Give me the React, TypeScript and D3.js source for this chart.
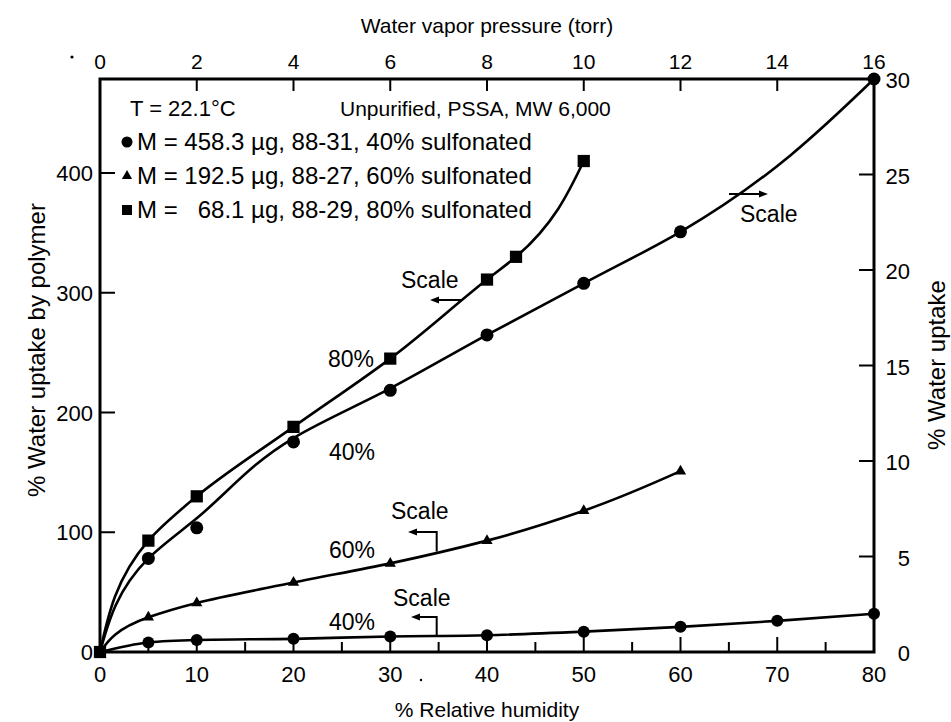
import React from "react";
import * as d3 from "d3";

// Relative humidity (%) and water uptake (%) for each sample
const sq80RH = [0, 5, 10, 20, 30, 40, 43, 50];
const sq80Uptake = [0, 93, 130, 188, 245, 311, 330, 410];

const tri60RH = [0, 5, 10, 20, 30, 40, 50, 60];
const tri60Uptake = [0, 29, 41, 58, 74, 93, 118, 151];

// 40% sulfonated, plotted against the left scale
const circ40RH = [0, 5, 10, 20, 30, 40, 50, 60, 70, 80];
const circ40Uptake = [0, 8, 10, 11, 13, 14, 17, 21, 26, 32];

// 40% sulfonated, plotted against the right scale
const circ40RRH = [0, 5, 10, 20, 30, 40, 50, 60, 80];
const circ40RUptake = [0, 4.9, 6.5, 11, 13.7, 16.6, 19.3, 22, 30];

// smoothed fit line drawn through the right-scale 40% data
const circ40RFitRH = [0, 5, 10, 20, 30, 40, 50, 60, 80];
const circ40RFit = [0, 4.9, 7.0, 11.2, 13.8, 16.6, 19.3, 22, 30];

const bottomTicks = [0, 10, 20, 30, 40, 50, 60, 70, 80];
const bottomMinor = [5, 15, 25, 35, 45, 55, 65, 75];
const topTicks = [0, 2, 4, 6, 8, 10, 12, 14, 16];
const leftTicks = [0, 100, 200, 300, 400];
const rightTicks = [0, 5, 10, 15, 20, 25, 30];

const legendRows = [
  { shape: "circle", text: "M = 458.3 \u00b5g, 88-31, 40% sulfonated" },
  { shape: "triangle", text: "M = 192.5 \u00b5g, 88-27, 60% sulfonated" },
  { shape: "square", text: "M =   68.1 \u00b5g, 88-29, 80% sulfonated" },
];

const FONT = "'Liberation Sans', Arial, Helvetica, sans-serif";

export default function App() {
  const x = d3.scaleLinear().domain([0, 80]).range([100, 874]);
  const xTop = d3.scaleLinear().domain([0, 16]).range([100, 874]);
  const yL = d3.scaleLinear().domain([0, 400]).range([652, 173]);
  const yR = d3.scaleLinear().domain([0, 30]).range([652, 79]);

  const [x0, x1] = x.range();
  const [yB, yT] = yR.range();

  // steep rising curves are interpolated monotone in y so they leave the origin vertically
  const makeLine = (
    xs: number[],
    ys: number[],
    ys2px: d3.ScaleLinear<number, number>,
    curve: d3.CurveFactory
  ) =>
    d3
      .line<number>()
      .x((_, i) => x(xs[i]))
      .y((_, i) => ys2px(ys[i]))
      .curve(curve)(xs) as string;

  const sqSym = d3.symbol(d3.symbolSquare, 150)();
  const triSym = d3.symbol(d3.symbolTriangle, 55)();
  const triLegend = d3.symbol(d3.symbolTriangle, 45)();
  const sqLegend = d3.symbol(d3.symbolSquare, 100)();

  const stroke = "#000";
  const txt = { fontFamily: FONT, fill: "#000" } as const;

  const arrowHead = (tx: number, ty: number, dir: number) => {
    // filled arrowhead with its tip at (tx, ty); dir = -1 points left, 1 points right
    const l = 9;
    const w = 3.5;
    return `M${tx},${ty}L${tx - dir * l},${ty - w}L${tx - dir * l},${ty + w}Z`;
  };

  return (
    <svg
      width={951}
      height={722}
      style={{ position: "absolute", left: 0, top: 0, background: "#fff" }}
    >
      <rect width={951} height={722} fill="#fff" />

      {/* frame */}
      <rect
        x={x0}
        y={yT}
        width={x1 - x0}
        height={yB - yT}
        fill="none"
        stroke={stroke}
        strokeWidth={3}
      />

      {/* bottom axis ticks */}
      {bottomTicks.slice(1, -1).map((t) => (
        <line key={"b" + t} x1={x(t)} x2={x(t)} y1={yB} y2={yB - 15} stroke={stroke} strokeWidth={2} />
      ))}
      {bottomMinor.map((t) => (
        <line key={"bm" + t} x1={x(t)} x2={x(t)} y1={yB} y2={yB - 10} stroke={stroke} strokeWidth={2} />
      ))}
      {bottomTicks.map((t) => (
        <text key={"bl" + t} x={x(t)} y={yB + 30} textAnchor="middle" fontSize={22} {...txt}>
          {t}
        </text>
      ))}

      {/* top axis */}
      {topTicks.slice(1, -1).map((t) => (
        <line key={"t" + t} x1={xTop(t)} x2={xTop(t)} y1={yT} y2={yT + 12} stroke={stroke} strokeWidth={2} />
      ))}
      {topTicks.map((t) => (
        <text key={"tl" + t} x={xTop(t)} y={yT - 10} textAnchor="middle" fontSize={21} {...txt}>
          {t}
        </text>
      ))}

      {/* left axis */}
      {leftTicks.slice(1).map((t) => (
        <line key={"l" + t} x1={x0} x2={x0 + 15} y1={yL(t)} y2={yL(t)} stroke={stroke} strokeWidth={2} />
      ))}
      {leftTicks.map((t) => (
        <text key={"ll" + t} x={x0 - 7} y={yL(t) + 8} textAnchor="end" fontSize={22} {...txt}>
          {t}
        </text>
      ))}

      {/* right axis */}
      {rightTicks.slice(1, -1).map((t) => (
        <line key={"r" + t} x1={x1} x2={x1 - 15} y1={yR(t)} y2={yR(t)} stroke={stroke} strokeWidth={2} />
      ))}
      {rightTicks.map((t) => (
        <text key={"rl" + t} x={x1 + 36} y={yR(t) + 9} textAnchor="end" fontSize={22} {...txt}>
          {t}
        </text>
      ))}

      {/* axis titles */}
      <text x={487} y={33} textAnchor="middle" fontSize={21} {...txt}>
        Water vapor pressure (torr)
      </text>
      <text x={487} y={717} textAnchor="middle" fontSize={21} {...txt}>
        % Relative humidity
      </text>
      <text
        transform="translate(45,350) rotate(-90)"
        textAnchor="middle"
        fontSize={24}
        {...txt}
      >
        % Water uptake by polymer
      </text>
      <text
        transform="translate(945,365) rotate(-90)"
        textAnchor="middle"
        fontSize={24}
        {...txt}
      >
        % Water uptake
      </text>

      {/* curves */}
      <g fill="none" stroke={stroke} strokeWidth={2.6}>
        <path d={makeLine(sq80RH, sq80Uptake, yL, d3.curveMonotoneY)} />
        <path d={makeLine(tri60RH, tri60Uptake, yL, d3.curveMonotoneY)} />
        <path d={makeLine(circ40RH, circ40Uptake, yL, d3.curveMonotoneX)} />
        <path d={makeLine(circ40RFitRH, circ40RFit, yR, d3.curveMonotoneY)} />
      </g>

      {/* markers */}
      {sq80RH.map((v, i) => (
        <path key={"sq" + i} d={sqSym} transform={`translate(${x(v)},${yL(sq80Uptake[i])})`} fill={stroke} />
      ))}
      {tri60RH.slice(1).map((v, i) => (
        <path key={"tr" + i} d={triSym} transform={`translate(${x(v)},${yL(tri60Uptake[i + 1])})`} fill={stroke} />
      ))}
      {circ40RH.slice(1).map((v, i) => (
        <circle key={"c" + i} cx={x(v)} cy={yL(circ40Uptake[i + 1])} r={6} fill={stroke} />
      ))}
      {circ40RRH.slice(1).map((v, i) => (
        <circle key={"cr" + i} cx={x(v)} cy={yR(circ40RUptake[i + 1])} r={6.5} fill={stroke} />
      ))}

      {/* header and legend */}
      <text x={130} y={116} fontSize={22} {...txt}>
        T = 22.1°C
      </text>
      <text x={340} y={116} fontSize={21} {...txt}>
        Unpurified, PSSA, MW 6,000
      </text>
      {legendRows.map((r, i) => {
        const yy = 150 + i * 34;
        return (
          <g key={"lg" + i}>
            {r.shape === "circle" && <circle cx={127} cy={yy - 8} r={5.5} fill={stroke} />}
            {r.shape === "triangle" && (
              <path d={triLegend} transform={`translate(127,${yy - 8})`} fill={stroke} />
            )}
            {r.shape === "square" && (
              <path d={sqLegend} transform={`translate(127,${yy - 8})`} fill={stroke} />
            )}
            <text x={137} y={yy} fontSize={24} style={{ whiteSpace: "pre" }} {...txt}>
              {r.text}
            </text>
          </g>
        );
      })}

      {/* curve labels */}
      <text x={374} y={367} textAnchor="end" fontSize={23} {...txt}>80%</text>
      <text x={375} y={460} textAnchor="end" fontSize={23} {...txt}>40%</text>
      <text x={375} y={558} textAnchor="end" fontSize={23} {...txt}>60%</text>
      <text x={375} y={630} textAnchor="end" fontSize={23} {...txt}>40%</text>

      {/* scale annotations */}
      <text x={401} y={288} fontSize={23} {...txt}>Scale</text>
      <line x1={437} x2={462} y1={300} y2={300} stroke={stroke} strokeWidth={2} />
      <path d={arrowHead(430, 300, -1)} fill={stroke} />

      <text x={740} y={222} fontSize={23} {...txt}>Scale</text>
      <line x1={729} x2={760} y1={194} y2={194} stroke={stroke} strokeWidth={2} />
      <path d={arrowHead(768, 194, 1)} fill={stroke} />

      <text x={391} y={519} fontSize={23} {...txt}>Scale</text>
      <path d={`M${x(34.8)},${yL(84)}V532H415`} fill="none" stroke={stroke} strokeWidth={2} />
      <path d={arrowHead(408, 532, -1)} fill={stroke} />

      <text x={393} y={606} fontSize={23} {...txt}>Scale</text>
      <path d={`M${x(34.8)},${yL(14)}V617H418`} fill="none" stroke={stroke} strokeWidth={2} />
      <path d={arrowHead(411, 617, -1)} fill={stroke} />

      {/* specks */}
      <circle cx={72} cy={57} r={1.6} fill={stroke} />
      <circle cx={421} cy={680} r={1.2} fill={stroke} />
    </svg>
  );
}
